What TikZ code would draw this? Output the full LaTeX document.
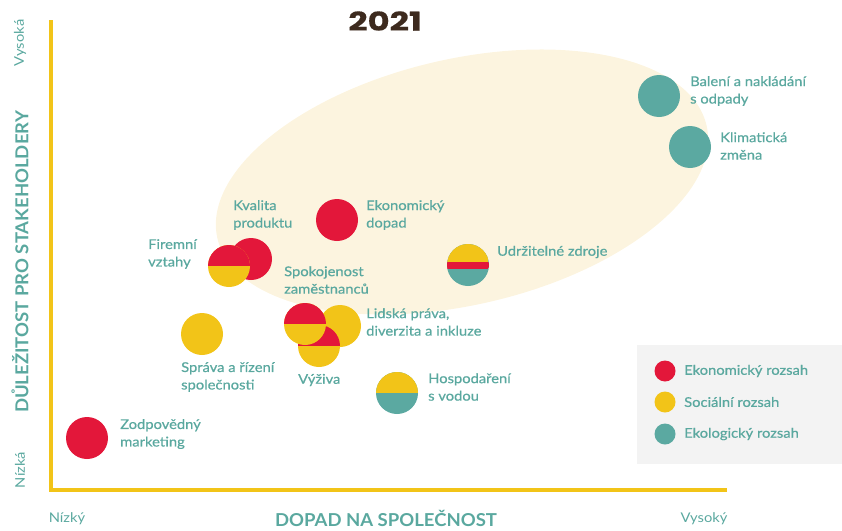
\documentclass[tikz,border=0pt]{standalone}
\usepackage{fontspec}
\setmainfont{Lato}
\newfontfamily\lblfont{Lato}[FakeBold=0.6, FakeStretch=1.1]
\newfontfamily\axfont{Lato}[FakeStretch=1.1]
\newfontfamily\boldfont{Lato Bold}[FakeStretch=1.04]
\newfontfamily\yearfont{Poppins}[FakeStretch=1.3, FakeBold=0.5]
\definecolor{cred}{HTML}{E3173A}
\definecolor{cyel}{HTML}{F2C418}
\definecolor{cteal}{HTML}{5BA9A1}
\definecolor{ctext}{HTML}{5AA89F}
\definecolor{cream}{HTML}{FCF4DF}
\definecolor{legbg}{HTML}{F3F3F3}
\definecolor{ctitle}{HTML}{3D2A1E}
\begin{document}
\begin{tikzpicture}[x=1pt,y=-1pt,
  dot/.style={circle, minimum size=42pt, inner sep=0pt, draw=none},
  eco/.style={dot, fill=cred},
  soc/.style={dot, fill=cyel},
  env/.style={dot, fill=cteal},
  split/.style 2 args={dot, fill=#2, path picture={\fill[#1] (path picture bounding box.north west) rectangle (path picture bounding box.east);}},
  tri/.style={dot, fill=cteal, path picture={\fill[cyel] (path picture bounding box.north west) rectangle ([yshift=3pt]path picture bounding box.east); \fill[cred] ([yshift=3pt]path picture bounding box.west) rectangle ([yshift=-4pt]path picture bounding box.east);}},
  legdot/.style={circle, minimum size=21pt, inner sep=0pt, draw=none},
  lbl/.style={anchor=west, align=left, inner sep=0pt, text=ctext, font=\lblfont\fontsize{13.4}{17.5}\selectfont},
  axlbl/.style={inner sep=0pt, text=ctext, font=\axfont\fontsize{13.4}{16}\selectfont},
  axtitle/.style={inner sep=0pt, text=ctext, font=\boldfont\fontsize{17.8}{20}\selectfont},
  axis/.style={draw=cyel, line width=4pt}
]
\useasboundingbox (0,0) rectangle (842,530);
% highlight ellipse
\fill[cream, rotate around={13:(462,182)}] (462,182) ellipse [x radius=251, y radius=123];
% title
\node[inner sep=0pt, text=ctitle, font=\yearfont\bfseries\fontsize{26}{30}\selectfont] (title) at (385,21) {2021};
% axes
\coordinate (ytop) at (51,20);
\coordinate (orig) at (51,490);
\coordinate (xend) at (727,490);
\draw[axis] (ytop) -- (orig) -- (xend);
% axis labels
\node[axtitle, rotate=90] (ytitle) at (20,262) {DŮLEŽITOST PRO STAKEHOLDERY};
\node[axlbl, rotate=90] (yhigh) at (20,43) {Vysoká};
\node[axlbl, rotate=90] (ylow) at (20,470) {Nízká};
\node[axtitle] (xtitle) at (386,518) {DOPAD NA SPOLEČNOST};
\node[axlbl] (xlow) at (67,519) {Nízký};
\node[axlbl] (xhigh) at (704,519) {Vysoký};
% circles
\node[env] (c1) at (659,96) {};
\node[env] (c2) at (690,147) {};
\node[eco] (c3) at (337,220) {};
\node[tri] (c4) at (468,265) {};
\node[eco] (c5) at (251,259) {};
\node[split={cred}{cyel}] (c6) at (229,266) {};
\node[soc] (c7) at (340,326) {};
\node[split={cred}{cyel}] (c8) at (319,346) {};
\node[split={cred}{cyel}] (c9) at (305,324) {};
\node[soc] (c10) at (202,334) {};
\node[split={cyel}{cteal}] (c11) at (397,393) {};
\node[eco] (c12) at (87,438) {};
% labels
\node[lbl] (l1) at (690,91) {Balení a nakládání\\s odpady};
\node[lbl] (l2) at (720,146) {Klimatická\\změna};
\node[lbl] (l3) at (366,215) {Ekonomický\\dopad};
\node[lbl] (l4) at (233,215) {Kvalita\\produktu};
\node[lbl] (l5) at (497,252) {Udržitelné zdroje};
\node[lbl] (l6) at (148,254) {Firemní\\vztahy};
\node[lbl] (l7) at (284,280) {Spokojenost\\zaměstnanců};
\node[lbl] (l8) at (366,322) {Lidská práva,\\diverzita a inkluze};
\node[lbl] (l9) at (181,377) {Správa a řízení\\společnosti};
\node[lbl] (l10) at (298,380) {Výživa};
\node[lbl] (l11) at (428,387) {Hospodaření\\s vodou};
\node[lbl] (l12) at (120,434) {Zodpovědný\\marketing};
% legend
\fill[legbg] (637,345) rectangle (842,464);
\node[legdot, fill=cred] (k1) at (665,371) {};
\node[legdot, fill=cyel] (k2) at (665,402) {};
\node[legdot, fill=cteal] (k3) at (665,434) {};
\node[lbl] (t1) at (684,371) {Ekonomický rozsah};
\node[lbl] (t2) at (684,402) {Sociální rozsah};
\node[lbl] (t3) at (684,434) {Ekologický rozsah};
\end{tikzpicture}
\end{document}
